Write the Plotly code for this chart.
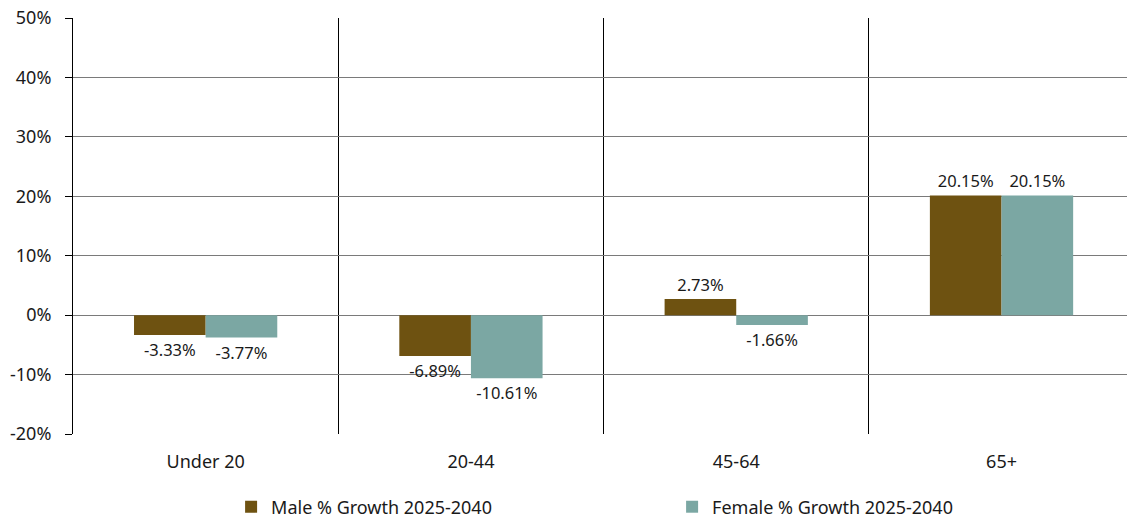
import plotly.graph_objects as go

categories = ["Under 20", "20-44", "45-64", "65+"]
male_pct = [-3.33, -6.89, 2.73, 20.15]
female_pct = [-3.77, -10.61, -1.66, 20.15]
series_names = ["Male % Growth 2025-2040", "Female % Growth 2025-2040"]
y_tick_vals = [-0.2, -0.1, 0, 0.1, 0.2, 0.3, 0.4, 0.5]
y_tick_text = ["-20%", "-10%", "0%", "10%", "20%", "30%", "40%", "50%"]

FONT = "Noto Sans"
TXT = "#1a1a1a"

fig = go.Figure()
for name, vals, col in [(series_names[0], male_pct, "#6E5211"),
                        (series_names[1], female_pct, "#7BA7A3")]:
    fig.add_trace(go.Bar(
        x=categories, y=[v / 100 for v in vals], name=name,
        marker=dict(color=col, line=dict(width=0)),
        text=[f"{v:.2f}%" for v in vals], textposition="outside",
        constraintext="none", cliponaxis=False,
        textfont=dict(family=FONT, size=16.5, color=TXT),
        hoverinfo="skip",
    ))

fig.update_layout(
    width=1127, height=520,
    margin=dict(l=73, r=0, t=18, b=86, autoexpand=False),
    paper_bgcolor="white", plot_bgcolor="white",
    barmode="group", bargap=0.46, bargroupgap=0,
    font=dict(family=FONT, size=18, color=TXT),
    showlegend=True,
    legend=dict(orientation="h", x=0.150, xanchor="left", y=-0.1755, yanchor="middle",
                entrywidth=396, entrywidthmode="pixels",
                font=dict(family=FONT, size=18, color=TXT), traceorder="normal"),
    xaxis=dict(type="category", range=[-0.5, 3.473], tickson="boundaries",
               showgrid=True, gridcolor="#000000", gridwidth=1,
               ticks="", showline=False, ticklabelstandoff=15,
               tickfont=dict(family=FONT, size=18, color=TXT)),
    yaxis=dict(range=[-0.2, 0.5], tickvals=y_tick_vals, ticktext=y_tick_text,
               showgrid=True, gridcolor="#7a7a7a", gridwidth=1,
               zeroline=True, zerolinecolor="#7a7a7a", zerolinewidth=1,
               showline=True, linecolor="#000000", linewidth=1,
               ticks="outside", ticklen=7, tickcolor="#000000",
               ticklabelstandoff=10,
               tickfont=dict(family=FONT, size=18, color=TXT)),
)

fig.write_html("out.html")
